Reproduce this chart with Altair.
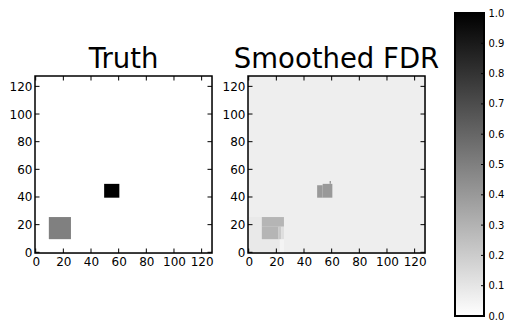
import altair as alt
import pandas as pd

# ---------------- data ----------------
# Truth panel: rectangles of constant value (image cell edges, data units)
truth_x0 = [-0.5, 9.5, 49.5]
truth_x1 = [127.5, 25.5, 60.5]
truth_y0 = [-0.5, 9.5, 39.5]
truth_y1 = [127.5, 25.5, 49.5]
truth_val = [0.0, 0.5, 1.0]

# Smoothed FDR panel: rectangles of constant value
fdr_x0 = [-0.5, -0.5, 22.5, 9.5, 9.5, 21.5, 23.5, 49.5, 53.5, 58.5]
fdr_x1 = [127.5, 22.5, 25.5, 21.5, 25.5, 23.5, 25.5, 53.5, 60.5, 59.5]
fdr_y0 = [-0.5, -0.5, -0.5, 9.5, 18.5, 9.5, 9.5, 39.5, 39.5, 49.5]
fdr_y1 = [127.5, 25.5, 9.5, 18.5, 25.5, 18.5, 18.5, 48.5, 49.5, 51.5]
fdr_val = [0.065, 0.085, 0.045, 0.29, 0.29, 0.21, 0.13, 0.40, 0.40, 0.40]

axis_ticks = [0, 20, 40, 60, 80, 100, 120]
cbar_ticks = [0.0, 0.1, 0.2, 0.3, 0.4, 0.5, 0.6, 0.7, 0.8, 0.9, 1.0]
cbar_lo = [0.0]
cbar_hi = [1.0]

W = 177
H = 177
TICK = 4.5
FONT = "DejaVu Sans"

color_scale = alt.Scale(domain=[0, 1], range=["#ffffff", "#000000"], interpolate="rgb")
xs = alt.Scale(domain=[-0.5, 127.5], nice=False, zero=False)
ys = alt.Scale(domain=[-0.5, 127.5], nice=False, zero=False)

xaxis = alt.Axis(values=axis_ticks, title=None, grid=False, domain=False, ticks=False,
                 tickSize=0, labelPadding=3, labelFontSize=12, labelFont=FONT,
                 labelColor="black", labelOverlap=False, labelFlush=False)
yaxis = alt.Axis(values=axis_ticks, title=None, grid=False, domain=False, ticks=False,
                 tickSize=0, labelPadding=3, labelFontSize=12, labelFont=FONT,
                 labelColor="black", labelOverlap=False, labelFlush=False)

tick_df = pd.DataFrame({"t": axis_ticks})


def panel(x0, x1, y0, y1, v, title):
    df = pd.DataFrame({"x0": x0, "x1": x1, "y0": y0, "y1": y1, "v": v})
    rects = alt.Chart(df).mark_rect(strokeWidth=0).encode(
        x=alt.X("x0:Q", scale=xs, axis=xaxis),
        x2="x1:Q",
        y=alt.Y("y0:Q", scale=ys, axis=yaxis),
        y2="y1:Q",
        color=alt.Color("v:Q", scale=color_scale, legend=None),
    )
    tb = alt.Chart(tick_df).mark_rule(color="black", strokeWidth=1).encode(
        x=alt.X("t:Q", scale=xs, axis=xaxis), y=alt.value(H), y2=alt.value(H - TICK))
    tt = alt.Chart(tick_df).mark_rule(color="black", strokeWidth=1).encode(
        x=alt.X("t:Q", scale=xs, axis=xaxis), y=alt.value(0), y2=alt.value(TICK))
    tl = alt.Chart(tick_df).mark_rule(color="black", strokeWidth=1).encode(
        y=alt.Y("t:Q", scale=ys, axis=yaxis), x=alt.value(0), x2=alt.value(TICK))
    tr = alt.Chart(tick_df).mark_rule(color="black", strokeWidth=1).encode(
        y=alt.Y("t:Q", scale=ys, axis=yaxis), x=alt.value(W), x2=alt.value(W - TICK))
    frame = alt.Chart(pd.DataFrame({"a": [0]})).mark_rect(
        fill=None, stroke="black", strokeWidth=1.5).encode(
        x=alt.value(0), x2=alt.value(W), y=alt.value(0), y2=alt.value(H))
    return alt.layer(rects, tb, tt, tl, tr, frame).properties(
        width=W, height=H,
        title=alt.TitleParams(text=title, fontSize=27.5, font=FONT,
                              fontWeight="normal", color="black", frame="group",
                              anchor="middle", baseline="alphabetic", offset=-20),
    )


truth = panel(truth_x0, truth_x1, truth_y0, truth_y1, truth_val, "Truth")
fdr = panel(fdr_x0, fdr_x1, fdr_y0, fdr_y1, fdr_val, "Smoothed FDR")

# colorbar: drawn in a panel of the same height, its scale range reaching beyond it
cb_scale = alt.Scale(domain=[0, 1], range=[240, -63], nice=False, zero=False)
cb_axis = alt.Axis(orient="right", values=cbar_ticks, format=".1f", title=None,
                   grid=False, domain=False, ticks=False, tickSize=0, labelPadding=4,
                   labelFontSize=10, labelFont=FONT, labelColor="black",
                   labelOverlap=False, labelFlush=False)
cb_df = pd.DataFrame({"lo": cbar_lo, "hi": cbar_hi})
grad = alt.Gradient(
    gradient="linear",
    stops=[alt.GradientStop(offset=0, color="#000000"),
           alt.GradientStop(offset=1, color="#ffffff")],
    x1=0, x2=0, y1=0, y2=1,
)
cb_rect = alt.Chart(cb_df).mark_rect(color=grad, stroke="black", strokeWidth=2).encode(
    y=alt.Y("lo:Q", scale=cb_scale, axis=cb_axis), y2="hi:Q",
    x=alt.value(0), x2=alt.value(29))
cb_tick_df = pd.DataFrame({"t": cbar_ticks})
cb_ticks = alt.Chart(cb_tick_df).mark_rule(color="black", strokeWidth=1).encode(
    y=alt.Y("t:Q", scale=cb_scale, axis=cb_axis), x=alt.value(29), x2=alt.value(26))
cbar = alt.layer(cb_rect, cb_ticks).properties(width=29, height=H)

chart = alt.hconcat(
    alt.hconcat(truth, fdr, spacing=7),
    cbar,
    spacing=13,
).properties(
    padding={"left": 8, "top": 7, "right": 0, "bottom": 0}
).configure_view(stroke=None).configure(font=FONT, background="white")

chart.save("out.html", embed_options={"renderer": "svg", "actions": False})
